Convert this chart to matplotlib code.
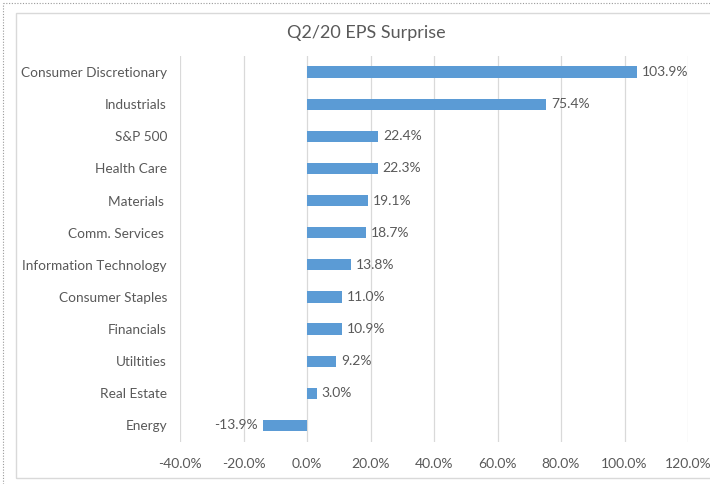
import matplotlib.pyplot as plt
from matplotlib.patches import Rectangle
from matplotlib.lines import Line2D
from matplotlib.ticker import FuncFormatter

plt.rcParams["font.family"] = ["Lato", "DejaVu Sans"]

sectors = ["Consumer Discretionary", "Industrials", "S&P 500", "Health Care",
           "Materials ", "Comm. Services ", "Information Technology",
           "Consumer Staples", "Financials", "Utiltities", "Real Estate", "Energy"]
surprise = [103.9, 75.4, 22.4, 22.3, 19.1, 18.7, 13.8, 11.0, 10.9, 9.2, 3.0, -13.9]
xticks = [-40, -20, 0, 20, 40, 60, 80, 100, 120]

TXT = "#595959"
BAR = "#5B9BD5"

fig = plt.figure(figsize=(7.1, 4.84), dpi=100)

# chart area frame + dotted outer border (Excel screenshot look)
fig.add_artist(Rectangle((16 / 710, 1 - 478 / 484), 700 / 710, 465 / 484,
                         transform=fig.transFigure, fill=False,
                         edgecolor="#d9d9d9", lw=1.0))
fig.add_artist(Line2D([3 / 710, 1], [1 - 3 / 484] * 2, transform=fig.transFigure,
                      color="#9a9a9a", lw=0.8, ls=(0, (1, 1.5))))
fig.add_artist(Line2D([3 / 710] * 2, [0, 1 - 3 / 484], transform=fig.transFigure,
                      color="#9a9a9a", lw=0.8, ls=(0, (1, 1.5))))

ax = fig.add_axes([180 / 710, 1 - 441.5 / 484, 508 / 710, 385.5 / 484])
ypos = list(range(len(sectors)))
ax.barh(ypos, surprise, height=0.35, color=BAR, zorder=3)

for y, v in zip(ypos, surprise):
    if v >= 0:
        ax.text(v + 1.5, y, f"{v:.1f}%", va="center", ha="left", fontsize=10, color=TXT)
    else:
        ax.text(v - 1.5, y, f"{v:.1f}%", va="center", ha="right", fontsize=10, color=TXT)

ax.set_xlim(-40, 120)
ax.set_ylim(len(sectors) - 0.5, -0.5)
ax.set_xticks(xticks)
ax.xaxis.set_major_formatter(FuncFormatter(lambda v, p: f"{v:.1f}%"))
ax.set_yticks(ypos)
ax.set_yticklabels(sectors)
ax.tick_params(axis="both", length=0, colors=TXT, labelsize=10)
ax.tick_params(axis="x", pad=12)
ax.tick_params(axis="y", pad=9.4, labelsize=9.8)
ax.grid(axis="x", color="#d9d9d9", lw=0.9, zorder=0)
for s in ax.spines.values():
    s.set_visible(False)

fig.text(366 / 710, 1 - 33 / 484, "Q2/20 EPS Surprise", ha="center", va="center",
         fontsize=13, color=TXT)

fig.savefig("out.png", dpi=100)
